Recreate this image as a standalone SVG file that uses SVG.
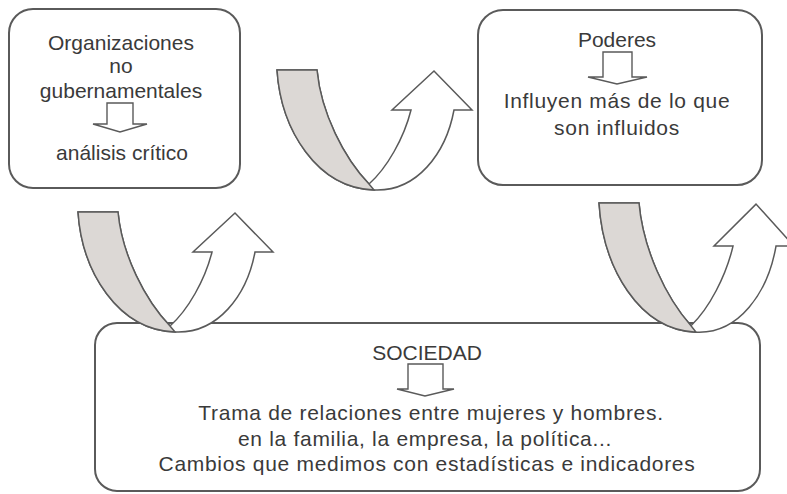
<svg xmlns="http://www.w3.org/2000/svg" width="787" height="494" viewBox="0 0 787 494">
<defs>
<style>
.box{fill:#ffffff;stroke:#5a5a5a;stroke-width:2}
.t{font-family:"Liberation Sans",Arial,sans-serif;font-size:21px;fill:#3a3a3a;text-anchor:middle}
.w{letter-spacing:0.7px}
.dn{fill:#ffffff;stroke:#5a5a5a;stroke-width:1.4;stroke-linejoin:miter}
.rib{fill:#ffffff;stroke:#5a5a5a;stroke-width:1.5;stroke-linejoin:miter;vector-effect:non-scaling-stroke}
.gray{fill:#dcd8d5;stroke:#5a5a5a;stroke-width:1.5;vector-effect:non-scaling-stroke}
</style>
<g id="uturn">
<path class="rib" d="M78,212 C82,272 118,330 175,332 C218,334 247,295 255,252 L273,252 L235,213 L193,252 L212,252 C205,280 188,310 170,326 C145,300 122,255 118,212 Z"/>
<path class="gray" d="M78,212 L118,212 C122,255 145,300 170,326 L175,332 C118,330 82,272 78,212 Z"/>
</g>
</defs>
<rect width="787" height="494" fill="#ffffff"/>

<g id="ong">
<rect class="box" x="9" y="9" width="231" height="179" rx="24"/>
<text class="t" x="121" y="50">Organizaciones</text>
<text class="t" x="121" y="73">no</text>
<text class="t" x="121" y="98">gubernamentales</text>
<path class="dn" d="M107,103 L133,103 L133,124 L147,124 L120,132 L93,124 L107,124 Z"/>
<text class="t" x="122" y="160">análisis crítico</text>
</g>

<g id="poderes">
<rect class="box" x="478" y="10" width="284" height="175" rx="25"/>
<text class="t" x="617" y="47">Poderes</text>
<path class="dn" d="M603,52 L632,52 L632,77 L647,77 L617,84 L588,77 L603,77 Z"/>
<text class="t w" x="617" y="108">Influyen más de lo que</text>
<text class="t w" x="617" y="135">son influidos</text>
</g>

<g id="sociedad">
<rect class="box" x="95" y="323" width="665" height="168" rx="22"/>
<text class="t" x="427" y="360">SOCIEDAD</text>
<path class="dn" d="M408,364 L443,364 L443,389 L454,389 L425,396 L397,389 L408,389 Z"/>
<text class="t w" x="431" y="420">Trama de relaciones entre mujeres y hombres.</text>
<text class="t w" x="425" y="446">en la familia, la empresa, la política...</text>
<text class="t w" x="427" y="471">Cambios que medimos con estadísticas e indicadores</text>
</g>

<g id="connectors">
<use href="#uturn"/>
<use href="#uturn" transform="translate(199,-142)"/>
<use href="#uturn" transform="translate(521,330) scale(1,1.076) translate(0,-330)"/>
</g>
</svg>
